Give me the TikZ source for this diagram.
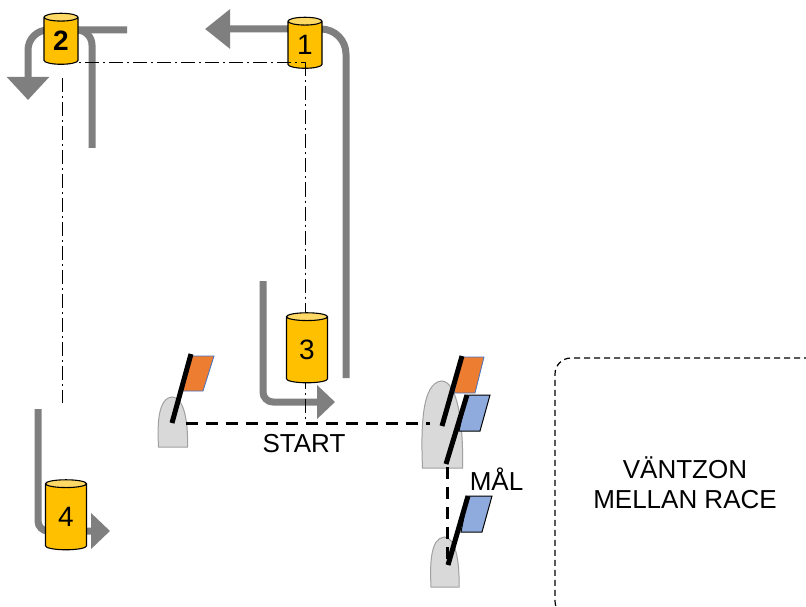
\documentclass[tikz,border=0pt]{standalone}
\usepackage{fontspec}
\setmainfont{Liberation Sans}
\usetikzlibrary{shapes.geometric,arrows.meta,calc}
\definecolor{grayarrow}{HTML}{7F7F7F}
\definecolor{buoybody}{HTML}{FFC000}
\definecolor{buoytop}{HTML}{FFD966}
\definecolor{hullfill}{HTML}{D9D9D9}
\definecolor{hullline}{HTML}{A0A0A0}
\definecolor{flagorange}{HTML}{ED7D31}
\definecolor{flagblue}{HTML}{8FAADC}
\definecolor{flagedge}{HTML}{4472C4}
\tikzset{
  x=1pt,y=-1pt,
  course/.style={draw=grayarrow,line width=7pt},
  buoy/.style={shape=cylinder,shape border rotate=90,aspect=0.5,draw=black,line width=1.1pt,
    cylinder uses custom fill,cylinder body fill=buoybody,cylinder end fill=buoytop,
    inner sep=0pt,font=\fontsize{28}{28}\selectfont},
  smallbuoy/.style={buoy,minimum width=34pt,minimum height=51pt},
  bigbuoy/.style={buoy,minimum width=41pt,minimum height=70pt},
  leg/.style={draw=black,line width=1pt,dash pattern=on 14pt off 4pt on 2pt off 4pt},
  gate/.style={draw=black,line width=3pt,dash pattern=on 12pt off 8pt},
  hullshape/.style={fill=hullfill,draw=hullline,line width=1pt},
  pole/.style={draw=black,line width=5pt},
  orangeflag/.style={fill=flagorange,draw=flagedge,line width=.8pt},
  blueflag/.style={fill=flagblue,draw=black,line width=1pt},
  label/.style={font=\fontsize{26}{30}\selectfont,inner sep=0pt,align=center,text=black},
  zone/.style={draw=black,line width=1.2pt,dash pattern=on 6pt off 4pt,rounded corners=16pt}
}
\newcommand{\boathull}[4]{% centre x, bottom y, half width, height
  \begin{scope}[shift={(#1,#2)},xscale=#3,yscale=#4]
    \path[hullshape] (-1,0) .. controls (-1.08,-.45) and (-1.05,-.98) .. (-.05,-1)
       .. controls (.7,-1) and (1.06,-.55) .. (1,0) -- cycle;
  \end{scope}}
\begin{document}
\begin{tikzpicture}
\useasboundingbox (0,0) rectangle (806,607);
\fill[white] (0,0) rectangle (806,607);
\coordinate (p1) at (305,45);
\coordinate (p2) at (61,41);
\coordinate (p3) at (307,350);
\coordinate (p4) at (66,517);
\coordinate (corner) at (305,62.5);
\coordinate (leg3end) at (305,420);
\coordinate (leg4start) at (62,78);
\coordinate (leg4end) at (62,403);
% course arrows
\draw[course,rounded corners=25pt,-{Triangle[length=25pt,width=38pt]}] (346,378) -- (346,29) -- (205,29);
\draw[course,rounded corners=20pt,-{Triangle[length=23pt,width=41pt]}] (127,30) -- (28,30) -- (28,100);
\draw[course,rounded corners=15pt] (92,148) -- (92,30) -- (70,30);
\draw[course,rounded corners=10pt,-{Triangle[length=18pt,width=33pt]}] (263,281) -- (263,402) -- (335,402);
\draw[course,rounded corners=10pt,-{Triangle[length=19pt,width=35pt]}] (38,409) -- (38,531) -- (110,531);
% buoy 1 lies under its legs, the others over them
\node[smallbuoy] (n1) at (p1) {1};
\draw[leg] (corner -| p2) -- (corner);
\draw[leg] (corner) -- (leg3end);
\draw[leg] (leg4start) -- (leg4end);
\node[smallbuoy] (n2) at (p2) {\textbf{2}};
\node[bigbuoy] (n3) at (p3) {3};
\node[bigbuoy] (n4) at (p4) {4};
% hulls
\boathull{173}{447}{14.5}{50}
\boathull{442.5}{468}{20}{87}
\boathull{445}{587}{14}{50}
% start and finish lines
\coordinate (startA) at (186,423.5);
\coordinate (startB) at (430,423.5);
\coordinate (finishA) at (447,467);
\coordinate (finishB) at (447,560);
\draw[gate] (startA) -- (startB);
\draw[gate] (finishA) -- (finishB);
% flags
\path[orangeflag] (191,356) -- (214,356) -- (203,391) -- (182,391) -- cycle;
\draw[pole] (172,423) -- (191,354);
\path[orangeflag] (462,357) -- (484,357) -- (475,393) -- (454,393) -- cycle;
\draw[pole] (442,426) -- (462,356);
\path[blueflag] (467,395) -- (490,395) -- (480,431) -- (459,431) -- cycle;
\draw[pole] (446,464) -- (467,395);
\path[blueflag] (468,496) -- (492,496) -- (482,532) -- (461,532) -- cycle;
\draw[pole] (448,565) -- (468,496);
% labels
\node[label,anchor=base] (start) at (304,452) {START};
\node[label,anchor=base] (mal) at (496.5,490) {MÅL};
\node[label] (vantzon) at (685,483) {VÄNTZON\\MELLAN RACE};
% waiting zone
\begin{scope}
\clip (0,0) rectangle (806,607);
\draw[zone] (820,358) -- (555,358) -- (555,617) -- (820,617);
\end{scope}
\end{tikzpicture}
\end{document}
